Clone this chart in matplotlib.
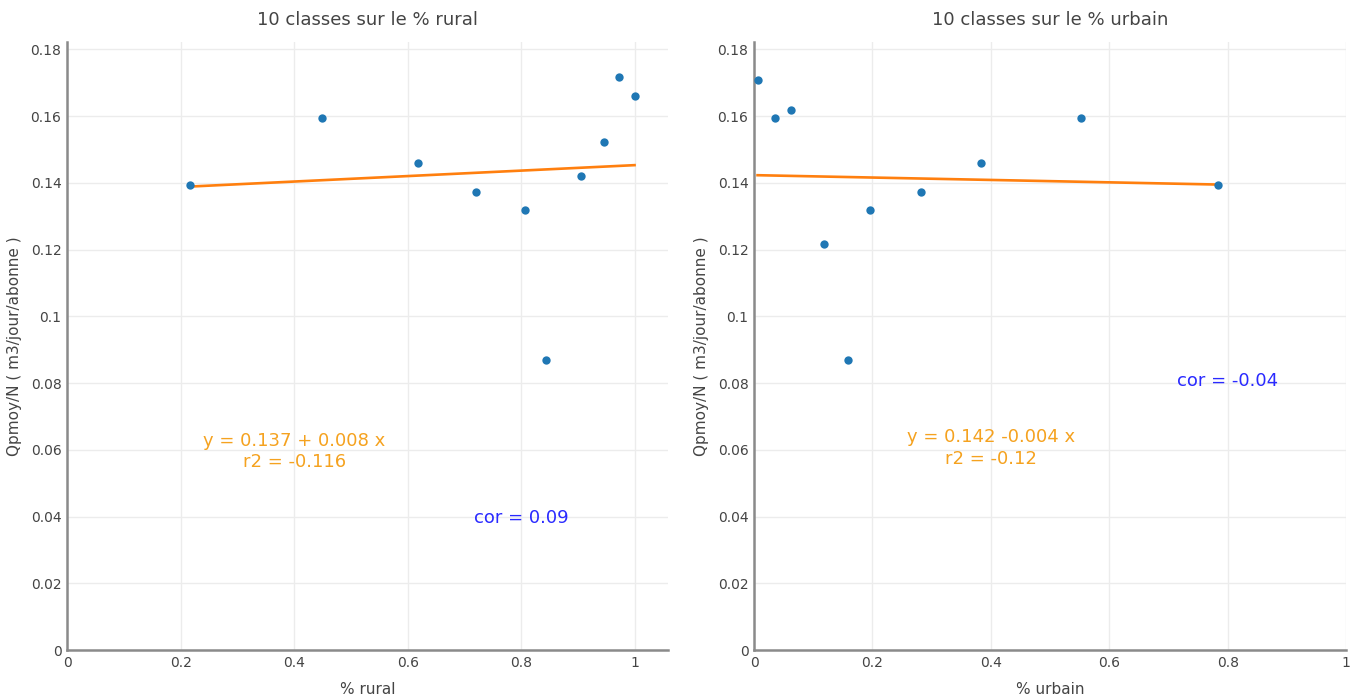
import numpy as np
import matplotlib
matplotlib.use('Agg')
import matplotlib.pyplot as plt
from matplotlib.ticker import FuncFormatter

# data
rural_x = [0.216, 0.448, 0.617, 0.720, 0.806, 0.843, 0.904, 0.946, 0.972, 0.999]
rural_y = [0.1393, 0.1593, 0.1458, 0.1372, 0.1319, 0.0868, 0.1419, 0.1522, 0.1717, 0.1661]
rural_fit = (0.1371, 0.0082)   # intercept, slope

urbain_x = [0.006, 0.036, 0.063, 0.119, 0.158, 0.196, 0.282, 0.383, 0.553, 0.783]
urbain_y = [0.1709, 0.1594, 0.1618, 0.1216, 0.0868, 0.1318, 0.1372, 0.1458, 0.1593, 0.1393]
urbain_fit = (0.1423, -0.0036)

panels = [
    dict(x=rural_x, y=rural_y, fit=rural_fit, title='10 classes sur le % rural',
         xlabel='% rural', xmax=1.058,
         eq='y = 0.137 + 0.008 x\nr2 = -0.116', eq_pos=(0.4, 0.0595),
         cor='cor = 0.09', cor_pos=(0.8, 0.0395)),
    dict(x=urbain_x, y=urbain_y, fit=urbain_fit, title='10 classes sur le % urbain',
         xlabel='% urbain', xmax=1.0,
         eq='y = 0.142 -0.004 x\nr2 = -0.12', eq_pos=(0.4, 0.0605),
         cor='cor = -0.04', cor_pos=(0.8, 0.0805)),
]
boxes = [[0.0492, 0.0647, 0.4413, 0.8749], [0.5536, 0.0647, 0.4347, 0.8749]]

fmt = FuncFormatter(lambda v, p: f'{v:g}')
grey = '#444444'

fig = plt.figure(figsize=(13.62, 6.95), dpi=100)
fig.set_facecolor('white')

for box, p in zip(boxes, panels):
    ax = fig.add_axes(box)
    ax.set_xlim(0, p['xmax'])
    ax.set_ylim(0, 0.1822)
    ax.set_xticks(np.arange(0, 1.01, 0.2))
    ax.set_yticks(np.arange(0, 0.181, 0.02))
    ax.xaxis.set_major_formatter(fmt)
    ax.yaxis.set_major_formatter(fmt)
    ax.grid(color='#ececec', lw=1)
    ax.set_axisbelow(True)
    for s in ['top', 'right']:
        ax.spines[s].set_visible(False)
    for s in ['left', 'bottom']:
        ax.spines[s].set_color('#8a8a8a')
        ax.spines[s].set_linewidth(1.8)
    ax.tick_params(length=0, labelsize=10, labelcolor=grey, pad=4)

    x = np.array(p['x'])
    b0, b1 = p['fit']
    xs = np.array([x.min(), x.max()])
    ax.plot(xs, b0 + b1 * xs, color='#ff7f0e', lw=1.9, zorder=2)
    ax.scatter(x, p['y'], s=36, color='#1f77b4', zorder=3, linewidths=0)

    ax.text(*p['eq_pos'], p['eq'], color='#f5a21f', fontsize=13,
            ha='center', va='center', linespacing=1.25)
    ax.text(*p['cor_pos'], p['cor'], color='#2a2aff', fontsize=13,
            ha='center', va='center')

    ax.set_title(p['title'], fontsize=13, color=grey, pad=12)
    ax.set_xlabel(p['xlabel'], fontsize=11, color=grey, labelpad=9)
    ax.set_ylabel('Qpmoy/N ( m3/jour/abonne )', fontsize=11, color=grey, labelpad=6)

fig.savefig('out.png', dpi=100)
